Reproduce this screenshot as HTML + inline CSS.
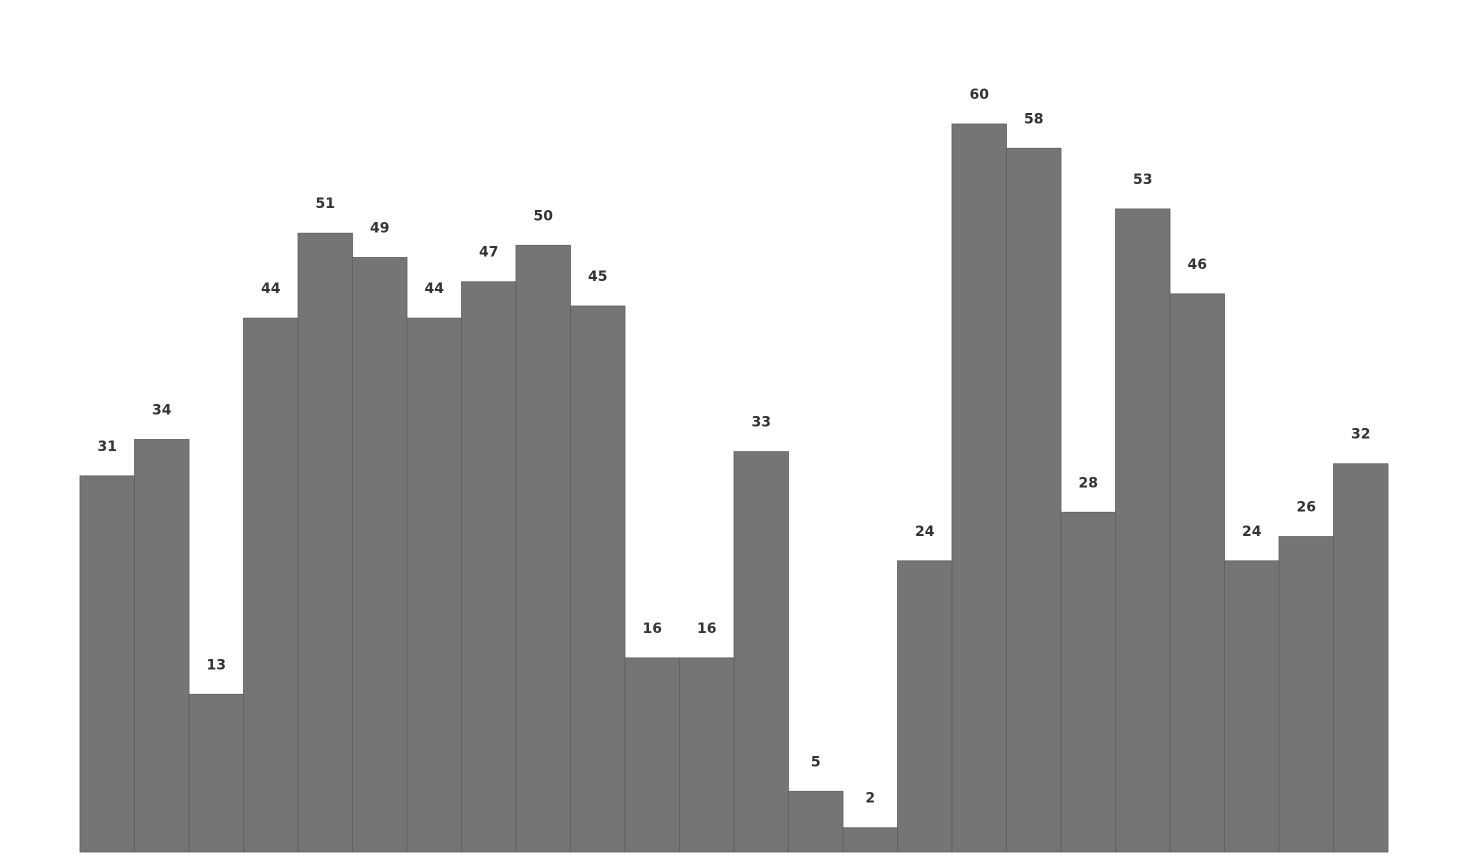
<!DOCTYPE html>
<html><head><meta charset="utf-8"><style>
html,body{margin:0;padding:0;background:#fff;}
svg{display:block;}
text{font-family:"DejaVu Sans","Liberation Sans",sans-serif;font-weight:bold;font-size:14px;fill:#333;}
</style></head><body>
<svg id="chart" width="1467" height="867" viewBox="0 0 1467 867"></svg>
<script>
const categories = ["c1","c2","c3","c4","c5","c6","c7","c8","c9","c10","c11","c12","c13","c14","c15","c16","c17","c18","c19","c20","c21","c22","c23","c24"];
const values = [31,34,13,44,51,49,44,47,50,45,16,16,33,5,2,24,60,58,28,53,46,24,26,32];
const labels = ["31","34","13","44","51","49","44","47","50","45","16","16","33","5","2","24","60","58","28","53","46","24","26","32"];
const left = 80, right = 1388, baseY = 852, pxPerUnit = (852 - 124) / 60;
const bw = (right - left) / categories.length;
const xScale = i => left + i * bw;
const yScale = v => baseY - v * pxPerUnit;
const svg = document.getElementById('chart');
const NS = 'http://www.w3.org/2000/svg';
values.forEach((v, i) => {
  const r = document.createElementNS(NS, 'rect');
  r.setAttribute('x', xScale(i));
  r.setAttribute('y', yScale(v));
  r.setAttribute('width', bw);
  r.setAttribute('height', baseY - yScale(v));
  r.setAttribute('fill', '#757575');
  r.setAttribute('stroke', '#606060');
  r.setAttribute('stroke-width', '0.8');
  
  
  svg.appendChild(r);
  const t = document.createElementNS(NS, 'text');
  t.setAttribute('x', xScale(i) + bw / 2);
  t.setAttribute('y', yScale(v) - 25);
  t.setAttribute('text-anchor', 'middle');
  t.textContent = labels[i];
  
  
  svg.appendChild(t);
});
</script>
</body></html>
